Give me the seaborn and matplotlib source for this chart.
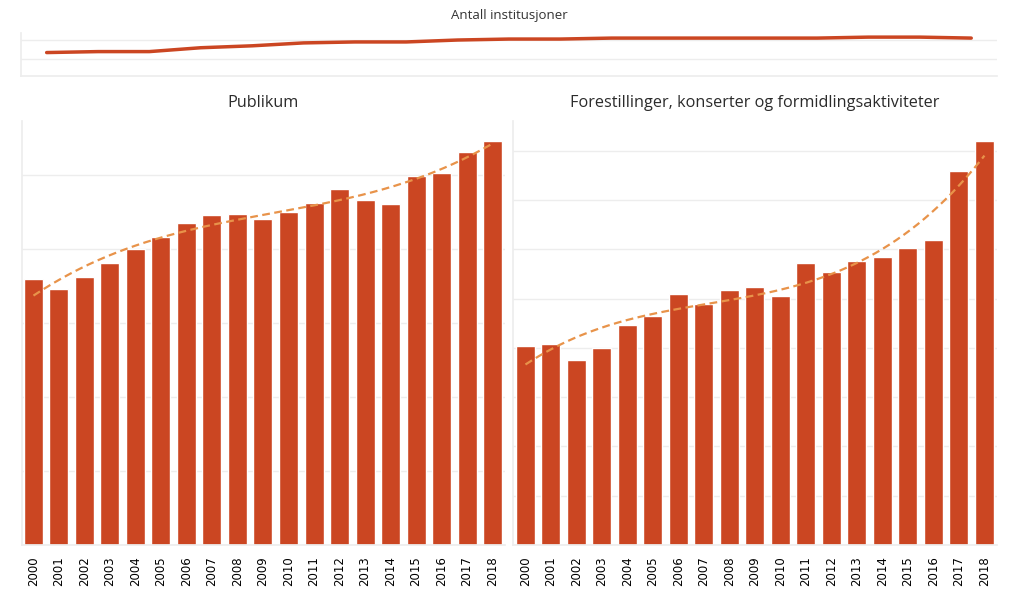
import numpy as np
import pandas as pd
import seaborn as sns
import matplotlib.pyplot as plt

sns.set_theme(style="white")
plt.rcParams['font.family'] = ['Open Sans', 'DejaVu Sans']

years = [str(y) for y in range(2000, 2019)]
institusjoner = [47, 48, 48, 52, 54, 57, 58, 58, 60, 61, 61, 62, 62, 62, 62, 62, 63, 63, 62]
publikum = [3590, 3460, 3620, 3810, 4000, 4160, 4350, 4460, 4470, 4410,
            4500, 4620, 4810, 4660, 4610, 4990, 5030, 5310, 5460]
forestillinger = [20200, 20400, 18750, 20000, 22300, 23250, 25450, 24450, 25850, 26150,
                  25250, 28600, 27700, 28800, 29200, 30100, 30950, 37950, 40950]

bar_col = '#cb4622'
trend_col = '#e8934a'
grid_col = '#ededed'

fig = plt.figure(figsize=(10.18, 5.91), dpi=100)

# top: antall institusjoner
ax0 = fig.add_axes([0.0206, 0.8714, 0.9587, 0.0728])
df0 = pd.DataFrame({'x': np.arange(len(years)), 'n': institusjoner})
sns.lineplot(data=df0, x='x', y='n', ax=ax0, color=bar_col, linewidth=2.5)
ax0.set_xlim(-0.5, 18.5)
ax0.set_ylim(22.7, 67.3)
ax0.set_yticks([40, 60])
ax0.grid(axis='y', color=grid_col, linewidth=1)
ax0.set_xticks([])
ax0.tick_params(left=False, labelleft=False)
ax0.set_xlabel('')
ax0.set_ylabel('')
for s in ['top', 'right']:
    ax0.spines[s].set_visible(False)
for s in ['left', 'bottom']:
    ax0.spines[s].set_color(grid_col)
fig.text(0.5, 1 - 16 / 591, 'Antall institusjoner', ha='center', va='center',
         fontsize=9.5, color='#333333')


def bar_panel(rect, values, top, step, title, tx):
    ax = fig.add_axes(rect)
    df = pd.DataFrame({'year': years, 'v': values})
    sns.barplot(data=df, x='year', y='v', ax=ax, color=bar_col, saturation=1,
                width=0.745, zorder=2)
    xs = np.arange(len(years))
    coef = np.polyfit(xs, values, 3)
    xf = np.linspace(0, len(years) - 1, 200)
    sns.lineplot(x=xf, y=np.polyval(coef, xf), ax=ax, color=trend_col,
                 linewidth=1.6, linestyle=(0, (3.5, 2)), zorder=3)
    ax.set_ylim(0, top)
    ax.set_yticks(np.arange(0, top, step))
    ax.grid(axis='y', color=grid_col, linewidth=1, zorder=0)
    ax.set_axisbelow(True)
    ax.tick_params(left=False, labelleft=False, bottom=False, pad=2)
    ax.set_xticks(xs)
    ax.set_xticklabels(years, rotation=90, fontsize=8.5, color='black',
                       family='DejaVu Sans')
    ax.set_xlabel('')
    ax.set_ylabel('')
    for s in ['top', 'right']:
        ax.spines[s].set_visible(False)
    for s in ['left', 'bottom']:
        ax.spines[s].set_color(grid_col)
    fig.text(tx, 1 - 103 / 591, title, ha='center', va='center',
             fontsize=11.7, color='#2b2b2b')
    return ax


ax1 = bar_panel([0.0216, 0.0778, 0.4745, 0.7174], publikum, 5730, 1000,
                'Publikum', 263 / 1018)
ax1.set_xlim(-0.45, 18.49)
ax2 = bar_panel([0.5039, 0.0778, 0.4754, 0.7174], forestillinger, 43000, 5000,
                'Forestillinger, konserter og formidlingsaktiviteter', 755 / 1018)
ax2.set_xlim(-0.49, 18.49)

fig.savefig('out.png', dpi=100)
